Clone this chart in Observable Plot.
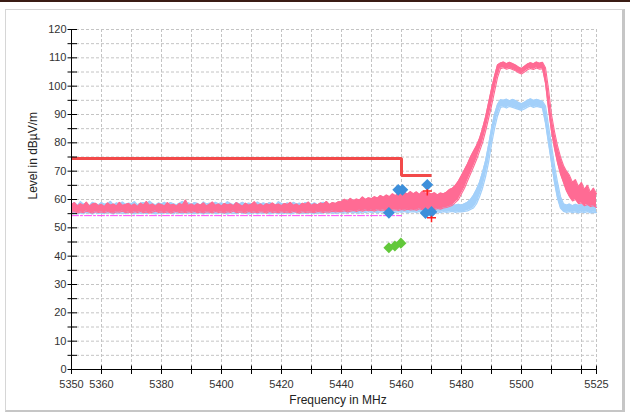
<!DOCTYPE html>
<html><head><meta charset="utf-8">
<script src="https://cdn.jsdelivr.net/npm/d3@7"></script>
<script src="https://cdn.jsdelivr.net/npm/@observablehq/plot@0.6"></script>
<style>
html,body{margin:0;padding:0;background:#fff;}
#wrap{position:relative;width:630px;height:414px;overflow:hidden;}
#topline{position:absolute;left:0;top:0;width:630px;height:2px;background:#3a1c14;}
#panel{position:absolute;left:5px;top:9px;width:616px;height:400px;border:1px solid #d6d6d6;border-right:3px solid #c6c6c6;border-bottom:2px solid #c6c6c6;pointer-events:none;}
#chart svg{display:block;}
</style></head><body>
<div id="wrap"><div id="chart"></div><div id="panel"></div><div id="topline"></div></div>
<script>
// ---- data ----
const freqStart = 5350, freqEnd = 5525; // MHz, 1 MHz samples
const pinkHi = [
58.1,58.9,57.7,58.5,57.9,59.1,57.6,58.4,58.7,57.8,
58.3,57.5,58.8,58.0,58.4,57.7,59.0,57.9,58.2,58.6,
57.8,58.4,57.5,58.7,58.1,59.3,57.9,58.4,57.6,58.5,
58.2,57.7,58.9,58.0,58.3,57.6,58.6,58.1,59.8,57.9,
58.4,57.8,58.5,58.0,58.8,57.7,58.3,59.1,57.9,58.4,
57.7,58.6,58.1,58.4,57.8,58.9,58.2,57.6,58.7,58.0,
58.3,59.2,57.9,58.4,57.7,58.5,58.1,58.8,58.0,58.4,
57.8,58.6,58.2,59.0,57.9,58.4,57.7,58.7,58.3,59.1,
57.9,58.5,58.1,58.8,58.4,59.3,58.2,58.9,58.6,59.2,
59.2,60.1,59.4,60.4,59.6,60.2,59.8,60.9,60.0,60.6,
60.3,61.0,60.5,61.4,60.8,61.6,61.0,62.0,61.3,62.4,
61.6,62.6,61.9,62.8,62.0,62.7,61.8,62.9,62.2,62.5,
61.9,62.4,61.6,62.3,62.0,62.6,63.5,64.0,65.0,66.5,
68.5,70.5,72.5,75.0,77.0,79.0,81.5,85.0,89.0,94.0,
99.0,103.5,107.5,108.2,108.5,107.9,108.4,108.0,107.5,106.8,
106.2,107.0,107.8,108.3,107.9,108.5,108.1,108.4,106.5,99.0,
90.0,84.0,79.0,75.0,72.0,70.0,68.5,66.0,67.0,64.5,
66.0,63.5,65.0,62.5,64.0,62.0];
const pinkLo = [
55.4,55.8,55.2,55.6,55.3,55.9,55.5,55.2,55.7,55.4,
55.6,55.3,55.8,55.4,55.2,55.7,55.5,55.9,55.3,55.6,
55.2,55.7,55.4,55.8,55.3,55.6,55.2,55.5,55.9,55.4,
55.6,55.3,55.7,55.2,55.5,55.8,55.4,55.6,55.3,55.7,
55.4,55.8,55.3,55.6,55.2,55.7,55.5,55.3,55.8,55.4,
55.6,55.2,55.7,55.4,55.9,55.3,55.6,55.5,55.2,55.8,
55.4,55.6,55.3,55.7,55.5,55.2,55.8,55.4,55.6,55.3,
55.7,55.4,55.6,55.3,55.8,55.5,55.2,55.7,55.4,55.6,
55.5,55.3,55.8,55.6,55.4,55.7,55.5,55.9,55.6,55.8,
55.7,56.0,55.6,55.9,56.1,55.8,56.2,55.9,56.3,56.0,
56.2,55.9,56.4,56.1,56.3,56.0,56.5,56.2,56.4,56.1,
56.5,56.2,56.6,56.3,56.5,56.2,56.7,56.4,56.6,56.3,
56.7,56.4,56.8,56.6,57.0,57.2,57.5,58.0,59.0,60.0,
62.0,64.0,66.5,69.0,71.5,74.0,77.0,80.0,84.0,88.5,
93.0,98.0,103.0,106.2,106.5,106.0,106.3,105.9,105.4,104.7,
104.3,105.0,105.8,106.2,105.9,106.4,106.0,106.2,101.0,92.0,
84.0,78.0,73.0,69.0,66.0,63.0,61.0,59.5,60.0,58.5,
58.8,57.8,58.2,57.5,57.8,57.2];
const blueHi = [
58.2,58.9,57.9,59.2,58.3,58.7,57.8,59.0,58.5,58.1,
58.9,58.3,58.6,59.3,58.0,58.8,58.4,59.1,58.2,58.7,
58.5,59.2,58.1,58.7,58.9,58.3,59.4,58.6,58.0,58.8,
58.4,59.0,58.2,58.9,58.5,58.1,58.7,59.3,58.4,58.8,
58.2,58.9,58.6,58.0,59.1,58.4,58.7,58.3,59.0,58.5,
58.8,58.2,59.2,58.6,58.1,58.9,58.4,59.0,58.3,58.7,
58.5,58.1,59.1,58.4,58.8,58.2,58.9,58.5,58.0,59.2,
58.6,58.3,58.8,58.1,59.0,58.4,58.7,58.2,58.9,58.5,
58.3,58.8,58.1,58.6,59.0,58.4,58.2,58.7,58.5,58.9,
58.4,58.7,58.2,58.8,58.5,58.1,58.6,58.9,58.3,58.5,
58.2,58.6,58.4,58.0,58.7,58.3,58.5,58.1,58.6,58.2,
58.4,58.0,58.5,58.2,58.6,57.9,58.3,58.1,58.4,58.0,
58.2,57.9,58.3,58.0,58.4,58.1,57.9,58.2,58.0,58.3,
58.0,58.5,59.0,60.0,61.5,63.5,66.0,69.5,73.5,79.0,
85.0,90.0,93.5,95.2,95.0,95.4,94.8,95.3,94.9,94.2,
93.8,94.3,95.0,95.5,94.9,95.3,95.0,94.6,93.0,86.0,
79.0,72.0,66.0,61.0,58.5,58.0,58.4,57.8,58.3,57.9,
58.2,57.7,58.1,57.8,58.0,57.6];
const blueLo = [
55.1,55.4,54.9,55.3,55.0,55.5,55.2,54.9,55.4,55.1,
55.3,55.0,55.5,55.2,54.9,55.4,55.1,55.3,55.0,55.5,
55.2,54.9,55.4,55.1,55.3,55.0,55.5,55.2,54.9,55.3,
55.0,55.4,55.1,55.3,54.9,55.5,55.2,55.0,55.4,55.1,
55.3,55.0,55.4,55.2,54.9,55.3,55.1,55.5,55.0,55.2,
55.4,55.1,54.9,55.3,55.2,55.0,55.5,55.1,55.3,54.9,
55.2,55.4,55.0,55.3,55.1,55.5,54.9,55.2,55.4,55.0,
55.3,55.1,55.4,54.9,55.2,55.5,55.0,55.3,55.1,55.4,
55.2,55.0,55.4,55.1,55.3,55.5,55.2,55.4,55.1,55.3,
55.5,55.2,55.4,55.6,55.3,55.5,55.2,55.6,55.4,55.7,
55.4,55.6,55.3,55.7,55.5,55.8,55.4,55.6,55.5,55.7,
55.5,55.8,55.4,55.6,55.7,55.5,55.8,55.6,55.4,55.7,
55.5,55.8,55.6,55.4,55.7,55.5,55.6,55.8,55.5,55.7,
55.6,55.8,56.0,56.5,57.0,58.5,61.0,64.0,68.0,73.0,
79.5,85.0,89.5,92.5,92.8,92.3,92.9,92.5,92.2,91.8,
91.5,92.0,92.6,93.0,92.5,92.9,92.6,92.3,87.0,80.0,
73.0,66.0,60.5,57.0,55.8,55.5,55.7,55.4,55.6,55.3,
55.6,55.4,55.7,55.3,55.5,55.4];

const limitFreq = [5350, 5460, 5460, 5470];
const limitLevel = [74.5, 74.5, 68.5, 68.5];
const avgLimitFreq = [5350, 5460];
const avgLimitLevel = [54.3, 54.3];

const peakMarkFreq = [5455.8, 5458.9, 5460.3, 5468.6, 5468.0, 5470.0];
const peakMarkLevel = [55.3, 63.4, 63.4, 65.2, 55.2, 55.6];
const avgMarkFreq = [5455.8, 5457.8, 5459.8];
const avgMarkLevel = [43.0, 43.6, 44.6];
const critFreq = [5468.6, 5470.0];
const critLevel = [63.0, 53.6];

const xTicks = [5350,5360,5370,5380,5390,5400,5410,5420,5430,5440,5450,5460,5470,5480,5490,5500,5510,5520,5525];
const xTickLabels = [5350,5360,5380,5400,5420,5440,5460,5480,5500,5525];
const yTicks = [0,5,10,15,20,25,30,35,40,45,50,55,60,65,70,75,80,85,90,95,100,105,110,115,120];
const yTickLabels = [0,10,20,30,40,50,60,70,80,90,100,110,120];
const xTitle = "Frequency in MHz";
const yTitle = "Level in dBµV/m";

// ---- build tables ----
const freq = d3.range(freqStart, freqEnd + 1);
const rows = freq.map((f, i) => ({f, ph: pinkHi[i], pl: pinkLo[i], bh: blueHi[i], bl: blueLo[i]}));
const pairs = (xs, ys) => xs.map((x, i) => ({x, y: ys[i]}));

const diamondSym = {draw(ctx, size) { const h = Math.sqrt(size / Math.PI) * 1.2; ctx.moveTo(0, -h); ctx.lineTo(h, 0); ctx.lineTo(0, h); ctx.lineTo(-h, 0); ctx.closePath(); }};
const plusSym = {draw(ctx, size) { const h = Math.sqrt(size / Math.PI); ctx.moveTo(-h, 0); ctx.lineTo(h, 0); ctx.moveTo(0, -h * 0.4); ctx.lineTo(0, h); }};

const PINK = "#ff6b94", BLUE = "#a3d0fa";
const font = "'Liberation Sans', Arial, sans-serif";

const chart = Plot.plot({
  width: 630, height: 414,
  marginLeft: 71, marginRight: 34, marginTop: 29, marginBottom: 45,
  style: {fontFamily: font, fontSize: "11px", color: "#333", background: "transparent", overflow: "visible"},
  x: {domain: [5350, 5525], axis: null},
  y: {domain: [0, 120], axis: null},
  marks: [
    Plot.ruleX(xTicks.filter(d => d > 5350), {x: d => d, stroke: "#c4c4c4", strokeDasharray: "3,2", strokeWidth: 1}),
    Plot.ruleY(yTicks.filter(d => d > 0), {y: d => d, stroke: "#c4c4c4", strokeDasharray: "3,2", strokeWidth: 1}),
    Plot.areaY(rows, {x: "f", y1: "bl", y2: "bh", fill: BLUE}),
    Plot.line(rows, {x: "f", y: "bh", stroke: BLUE, strokeWidth: 1.3}),
    Plot.line(rows, {x: "f", y: "bl", stroke: BLUE, strokeWidth: 1.3}),
    Plot.areaY(rows, {x: "f", y1: "pl", y2: "ph", fill: PINK}),
    Plot.line(rows, {x: "f", y: "ph", stroke: PINK, strokeWidth: 1.1}),
    Plot.line(rows, {x: "f", y: "pl", stroke: PINK, strokeWidth: 1.1}),
    Plot.line(pairs(avgLimitFreq, avgLimitLevel), {x: "x", y: "y", stroke: "#ff44ff", strokeWidth: 1, strokeDasharray: "7,2,2,2"}),
    Plot.line(pairs(limitFreq, limitLevel), {x: "x", y: "y", stroke: "#f24a4a", strokeWidth: 3, strokeLinejoin: "miter", strokeLinecap: "butt"}),
    Plot.dot(pairs(avgMarkFreq, avgMarkLevel), {x: "x", y: "y", symbol: diamondSym, r: 4.6, fill: "#62c83a", stroke: "none"}),
    Plot.dot(pairs(peakMarkFreq, peakMarkLevel), {x: "x", y: "y", symbol: diamondSym, r: 4.9, fill: "#3d8fda", stroke: "none"}),
    Plot.dot(pairs(critFreq, critLevel), {x: "x", y: "y", symbol: plusSym, r: 4.5, fill: "none", stroke: "#ff2020", strokeWidth: 1.5}),
    // axes
    Plot.ruleX([5350], {x: d => d, stroke: "#000", strokeWidth: 1}),
    Plot.ruleY([0], {y: d => d, stroke: "#000", strokeWidth: 1}),
    Plot.ruleX(xTicks, {x: d => d, y1: 0, y2: 0, insetTop: -3.5, insetBottom: -5, stroke: "#000"}),
    Plot.ruleY(yTicks, {y: d => d, x1: 5350, x2: 5350, insetLeft: -3.5, insetRight: -6, stroke: "#000"}),
    Plot.text(xTickLabels, {x: d => d, y: 0, dy: 15, text: d => String(d), fill: "#333", fontSize: 11}),
    Plot.text(yTickLabels, {x: 5350, y: d => d, dx: -5, text: d => String(d), textAnchor: "end", fill: "#333", fontSize: 11}),
    Plot.text([xTitle], {frameAnchor: "bottom", dx: 4, dy: 34, text: d => d, fill: "#222", fontSize: 12}),
    Plot.text([yTitle], {frameAnchor: "left", dx: -38, rotate: -90, text: d => d, fill: "#222", fontSize: 12})
  ]
});
document.getElementById("chart").appendChild(chart);
</script>
</body></html>
